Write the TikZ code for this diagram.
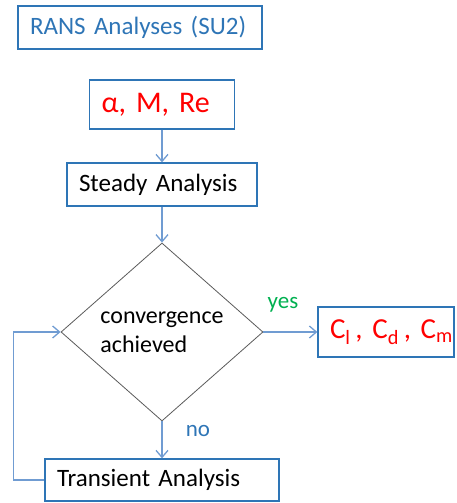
\documentclass[tikz,border=0pt]{standalone}
\usepackage{fontspec}
\setmainfont{Carlito}
\usetikzlibrary{shapes.geometric,arrows.meta}

\definecolor{boxblue}{RGB}{46,117,182}
\definecolor{flowblue}{RGB}{112,156,210}
\definecolor{yesgreen}{RGB}{0,176,80}
\definecolor{diagray}{RGB}{90,90,90}

\begin{document}
\begin{tikzpicture}[x=1pt,y=-1pt,
  box/.style={draw=boxblue,line width=1.3pt,inner xsep=12pt,inner ysep=0pt,
    align=left,text width=#1,font=\fontsize{25}{30}\selectfont},
  flow/.style={draw=flowblue,line width=1.3pt,-{Straight Barb[length=7pt,width=12pt]}},
  redtext/.style={text=red,font=\fontsize{30}{36}\selectfont}]

\useasboundingbox (0,0) rectangle (457,503);

\node[box=220pt,minimum height=43pt,text=boxblue] (rans) at (140,27.5) {RANS Analyses (SU2)};
\node[box=121pt,minimum height=49pt,redtext] (inp) at (162,104.5) {α, M, Re};
\node[box=166pt,minimum height=43pt] (steady) at (162,184.5) {Steady Analysis};
\node[diamond,draw=diagray,line width=0.8pt,minimum width=202pt,minimum height=178pt,
  inner sep=0pt,align=left,font=\fontsize{24}{29}\selectfont] (conv) at (162,332) {convergence\\achieved};
\node[box=112pt,minimum height=50pt,redtext,font=\fontsize{29}{34}\selectfont] (coef) at (386,332)
  {\mbox{C\textsubscript{l}\,, C\textsubscript{d}\,, C\textsubscript{m}}};
\node[box=210pt,minimum height=42pt] (trans) at (162,480) {Transient Analysis};

\node[text=yesgreen,font=\fontsize{23}{28}\selectfont] (yes) at (283,305) {yes};
\node[text=boxblue,font=\fontsize{23}{28}\selectfont] (no) at (198,431) {no};

\draw[flow] (inp) -- (steady);
\draw[flow] (steady) -- (conv);
\draw[flow] (conv) -- (coef);
\draw[flow] (conv) -- (trans);
\draw[flow] (trans.west) -- ++(-31,0) |- (conv.west);

\end{tikzpicture}
\end{document}
